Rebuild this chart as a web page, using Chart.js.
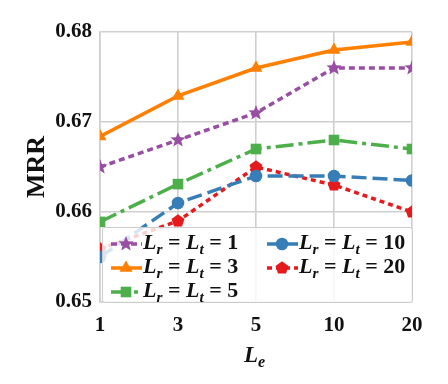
<!DOCTYPE html>
<html><head><meta charset="utf-8">
<script src="https://cdn.jsdelivr.net/npm/chart.js@4/dist/chart.umd.min.js"></script>
<style>
html,body{margin:0;padding:0;background:#fff;}
#wrap{position:relative;width:448px;height:384px;}
#c{position:absolute;left:0;top:0;}
.t{font-family:"Liberation Serif","Times New Roman",serif;font-weight:bold;color:#111;}
#xtitle{position:absolute;left:244px;top:342px;font-size:23px;font-style:italic;white-space:nowrap;}
#legend{position:absolute;left:102px;top:227px;width:309px;height:74px;border:1.5px solid #cccccc;border-radius:3px;background:rgba(255,255,255,0.8);}
.item{position:absolute;height:24px;white-space:nowrap;}
.item svg{position:absolute;left:0;top:2px;}
.item span{position:absolute;top:-2px;font-size:22px;line-height:24px;}
sub{font-size:0.7em;vertical-align:-0.3em;line-height:0;}
</style></head>
<body>
<div id="wrap">
<canvas id="c" width="448" height="384"></canvas>
<div id="xtitle" class="t">L<sub>e</sub></div>
<div id="legend"></div>
</div>
<script>
// ---- data ----
const categories = ['1', '3', '5', '10', '20'];
const layerValues = [1, 3, 5, 10, 20];           // L_r = L_t values (series names)
const mrr_L1  = [0.6650, 0.6680, 0.6710, 0.6760, 0.6760];
const mrr_L3  = [0.6684, 0.6729, 0.6760, 0.6780, 0.6789];
const mrr_L5  = [0.6589, 0.6631, 0.6670, 0.6680, 0.6670];
const mrr_L10 = [0.6550, 0.6610, 0.6640, 0.6640, 0.6635];
const mrr_L20 = [0.6559, 0.6590, 0.6650, 0.6630, 0.6600];
const yTicks  = [0.65, 0.66, 0.67, 0.68];

// ---- styles ----
const colors = ['#984ea3', '#ff7f00', '#4daf4a', '#377eb8', '#e41a1c'];
const dashes = [[6, 4], [], [18, 5, 4, 5], [15, 6], [5, 4]];
const serif = '"Liberation Serif","Times New Roman",serif';

function polyCanvas(color, n, rOut, rIn) {
  const s = Math.ceil(rOut * 2 + 2);
  const cv = document.createElement('canvas');
  cv.width = s; cv.height = s;
  const ctx = cv.getContext('2d');
  ctx.fillStyle = color;
  ctx.beginPath();
  const pts = rIn ? n * 2 : n;
  for (let i = 0; i < pts; i++) {
    const r = rIn ? (i % 2 === 0 ? rOut : rIn) : rOut;
    const a = -Math.PI / 2 + i * 2 * Math.PI / pts;
    const x = s / 2 + r * Math.cos(a), y = s / 2 + r * Math.sin(a);
    if (i === 0) ctx.moveTo(x, y); else ctx.lineTo(x, y);
  }
  ctx.closePath(); ctx.fill();
  return cv;
}
const starImg = polyCanvas(colors[0], 5, 8, 3.4);
const pentImg = polyCanvas(colors[4], 5, 6.8, 0);
const pointStyles = [starImg, 'triangle', 'rect', 'circle', pentImg];
const pointRadius = [7, 7.5, 7.5, 6.3, 6.5];
const seriesData = [mrr_L1, mrr_L3, mrr_L5, mrr_L10, mrr_L20];

const datasets = seriesData.map((d, i) => ({
  label: 'Lr = Lt = ' + layerValues[i],
  data: d,
  borderColor: colors[i],
  backgroundColor: colors[i],
  borderWidth: 3.5,
  borderDash: dashes[i],
  pointStyle: pointStyles[i],
  pointRadius: pointRadius[i],
  pointHoverRadius: pointRadius[i],
  pointBorderWidth: 0,
  tension: 0,
  clip: 0
}));

new Chart(document.getElementById('c'), {
  type: 'line',
  data: { labels: categories, datasets },
  options: {
    responsive: false,
    animation: false,
    layout: { padding: { left: 0, right: 36, top: 32, bottom: 0 } },
    plugins: { legend: { display: false }, tooltip: { enabled: false } },
    scales: {
      x: {
        type: 'category',
        offset: false,
        grid: { color: '#cfcfcf', lineWidth: 1.6, drawTicks: false },
        border: { color: '#cfcfcf', width: 1.6 },
        ticks: { color: '#111', padding: 11, font: { family: serif, weight: 'bold', size: 21 } },
        afterFit: s => { s.height = 82; }
      },
      y: {
        min: 0.65, max: 0.68,
        grid: { color: '#cfcfcf', lineWidth: 1.6, drawTicks: false },
        border: { color: '#cfcfcf', width: 1.6 },
        afterBuildTicks: s => { s.ticks = yTicks.map(v => ({ value: v })); },
        ticks: { color: '#111', padding: 8, font: { family: serif, weight: 'bold', size: 21 },
                 callback: v => Number(v).toFixed(2) },
        title: { display: true, text: 'MRR', color: '#111', padding: { top: 22, bottom: 0 },
                 font: { family: serif, weight: 'bold', size: 26 } },
        afterFit: s => { s.width = 100; }
      }
    }
  }
});

// ---- legend (HTML, mathtext-like labels) ----
const legendPos = [[8, 4], [8, 28], [8, 52], [164, 4], [164, 28]];
const lg = document.getElementById('legend');
datasets.forEach((ds, i) => {
  const it = document.createElement('div');
  it.className = 'item';
  it.style.left = legendPos[i][0] + 'px';
  it.style.top = legendPos[i][1] + 'px';
  const c = colors[i];
  let marker = '';
  if (i === 0) marker = '<polygon fill="' + c + '" points="' + starPts(15, 10, 8, 3.4) + '"/>';
  if (i === 1) marker = '<polygon fill="' + c + '" points="15,2.5 21.5,13.75 8.5,13.75"/>';
  if (i === 2) marker = '<rect fill="' + c + '" x="9.7" y="4.7" width="10.6" height="10.6"/>';
  if (i === 3) marker = '<circle fill="' + c + '" cx="15" cy="10" r="6.3"/>';
  if (i === 4) marker = '<polygon fill="' + c + '" points="' + starPts(15, 10, 6.8, 0) + '"/>';
  const da = dashes[i].length ? ' stroke-dasharray="' + dashes[i].join(' ') + '"' : '';
  it.innerHTML = '<svg width="31" height="20"><line x1="0" y1="10" x2="31" y2="10" stroke="' + c +
    '" stroke-width="3.5"' + da + '/>' + marker + '</svg>' +
    '<span class="t" style="left:32px"><i>L</i><sub><i>r</i></sub> = <i>L</i><sub><i>t</i></sub> = ' + layerValues[i] + '</span>';
  lg.appendChild(it);
});
function starPts(cx, cy, rOut, rIn) {
  const n = rIn ? 10 : 5, out = [];
  for (let i = 0; i < n; i++) {
    const r = rIn ? (i % 2 === 0 ? rOut : rIn) : rOut;
    const a = -Math.PI / 2 + i * 2 * Math.PI / n;
    out.push((cx + r * Math.cos(a)).toFixed(2) + ',' + (cy + r * Math.sin(a)).toFixed(2));
  }
  return out.join(' ');
}
</script>
</body></html>
